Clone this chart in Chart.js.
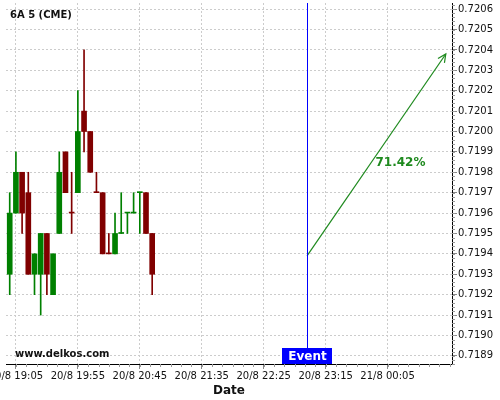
<!DOCTYPE html>
<html>
<head>
<meta charset="utf-8">
<script src="https://cdn.jsdelivr.net/npm/chart.js@4/dist/chart.umd.min.js"></script>
<style>
  html, body { margin: 0; background: #fff; }
  #wrap { width: 500px; height: 400px; }
</style>
</head>
<body>
<div id="wrap"><canvas id="chart" width="500" height="400"></canvas></div>
<script>
// 5-minute candles, 20/8
const times  = ['19:00','19:05','19:10','19:15','19:20','19:25','19:30','19:35','19:40','19:45','19:50','19:55',
                '20:00','20:05','20:10','20:15','20:20','20:25','20:30','20:35','20:40','20:45','20:50','20:55'];
const opens  = [0.7193,0.7196,0.7198,0.7197,0.7193,0.7193,0.7195,0.7192,0.7195,0.7199,0.7196,0.7197,
                0.7201,0.7200,0.7197,0.7197,0.7194,0.7194,0.7195,0.7196,0.7196,0.7197,0.7197,0.7195];
const highs  = [0.7197,0.7199,0.7198,0.7198,0.7194,0.7195,0.7195,0.7194,0.7199,0.7199,0.7198,0.7202,
                0.7204,0.7200,0.7198,0.7197,0.7195,0.7196,0.7197,0.7196,0.7197,0.7197,0.7197,0.7195];
const lows   = [0.7192,0.7196,0.7195,0.7193,0.7192,0.7191,0.7192,0.7192,0.7195,0.7197,0.7195,0.7197,
                0.7199,0.7198,0.7197,0.7194,0.7194,0.7194,0.7195,0.7195,0.7196,0.7195,0.7195,0.7192];
const closes = [0.7196,0.7198,0.7196,0.7193,0.7194,0.7195,0.7193,0.7194,0.7198,0.7197,0.7196,0.7200,
                0.7200,0.7198,0.7197,0.7194,0.7194,0.7195,0.7195,0.7196,0.7196,0.7197,0.7195,0.7193];
// dojis drawn green in the source (the rest are red)
const greenDojis = ['20:30','20:35','20:40','20:45'];

const xTickTimes = ['19:05','19:55','20:45','21:35','22:25','23:15','00:05'];
const yTicks = [0.7189,0.7190,0.7191,0.7192,0.7193,0.7194,0.7195,0.7196,0.7197,0.7198,
                0.7199,0.7200,0.7201,0.7202,0.7203,0.7204,0.7205,0.7206];

const eventTime   = '23:00';
const arrowFrom   = 0.71939;
const arrowToTime = '00:52';
const arrowTo     = 0.72038;
const arrowLabel  = '71.42%';

const UP = '#008000', DOWN = '#800000', ARROW = '#1f8a1f';
const FONT = '"DejaVu Sans", sans-serif';

// minutes since 20/8 00:00 (times before noon belong to 21/8)
function toMin(t) {
  const [h, m] = t.split(':').map(Number);
  return (h < 12 ? 1440 : 0) + h * 60 + m;
}
function fmtMin(v) {
  const day = v >= 1440 ? 21 : 20;
  const mm = v % 1440;
  const h = Math.floor(mm / 60), m = mm % 60;
  return `${day}/8 ${String(h).padStart(2, '0')}:${String(m).padStart(2, '0')}`;
}

const colors = times.map((t, i) =>
  closes[i] > opens[i] || (closes[i] === opens[i] && greenDojis.includes(t)) ? UP : DOWN);

const decor = {
  id: 'decor',
  afterDatasetsDraw(chart) {
    const { ctx, chartArea: a, scales: { x, y } } = chart;
    ctx.save();

    // minor ticks on both axes
    ctx.fillStyle = '#999';
    for (let v = yTicks[0] - 0.0001; v <= yTicks[yTicks.length - 1] + 0.0001; v += 0.00002) {
      const py = y.getPixelForValue(v);
      if (py < a.top || py > a.bottom) continue;
      ctx.fillRect(a.right, Math.round(py), 3, 1);
    }
    for (let v = toMin(xTickTimes[0]) - 50; v <= x.max; v += 50 / 6) {
      const px = x.getPixelForValue(v);
      if (px < a.left || px > a.right) continue;
      ctx.fillRect(Math.round(px), a.bottom, 1, 3);
    }

    // event line and label
    const ex = Math.round(x.getPixelForValue(toMin(eventTime)));
    ctx.fillStyle = '#0000ff';
    ctx.fillRect(ex, a.top, 1, a.bottom - a.top);
    ctx.fillRect(ex - 25, a.bottom - 16, 50, 16);
    ctx.fillStyle = '#fff';
    ctx.font = `bold 12px ${FONT}`;
    ctx.textAlign = 'center';
    ctx.textBaseline = 'middle';
    ctx.fillText('Event', ex + 0.5, a.bottom - 7);

    // arrow head
    const pts = chart.getDatasetMeta(2).data;
    const p0 = pts[0], p1 = pts[1];
    const ang = Math.atan2(p1.y - p0.y, p1.x - p0.x);
    const len = 9, spread = 0.45;
    ctx.strokeStyle = ARROW;
    ctx.lineWidth = 1.2;
    ctx.beginPath();
    ctx.moveTo(p1.x - len * Math.cos(ang - spread), p1.y - len * Math.sin(ang - spread));
    ctx.lineTo(p1.x, p1.y);
    ctx.lineTo(p1.x - len * Math.cos(ang + spread), p1.y - len * Math.sin(ang + spread));
    ctx.stroke();

    // probability text next to arrow
    ctx.fillStyle = ARROW;
    ctx.textAlign = 'left';
    ctx.fillText(arrowLabel, (p0.x + p1.x) / 2 - 1, (p0.y + p1.y) / 2 + 8);

    // corner texts
    ctx.fillStyle = '#111';
    ctx.font = `bold 10px ${FONT}`;
    ctx.fillText('6A 5 (CME)', a.left + 4, a.top + 12);
    ctx.fillText('www.delkos.com', a.left + 9, a.bottom - 10);
    ctx.restore();
  }
};

new Chart(document.getElementById('chart'), {
  type: 'bar',
  data: {
    datasets: [
      {
        label: 'wick',
        data: times.map((t, i) => ({ x: toMin(t), y: [lows[i], highs[i]] })),
        backgroundColor: colors,
        barThickness: 1,
        minBarLength: 1,
        grouped: false,
        order: 2,
      },
      {
        label: 'body',
        data: times.map((t, i) => ({ x: toMin(t), y: [opens[i], closes[i]] })),
        backgroundColor: colors,
        barThickness: 5,
        minBarLength: 1,
        grouped: false,
        order: 1,
      },
      {
        type: 'line',
        label: 'arrow',
        data: [{ x: toMin(eventTime), y: arrowFrom }, { x: toMin(arrowToTime), y: arrowTo }],
        borderColor: ARROW,
        borderWidth: 1.2,
        pointRadius: 0,
        tension: 0,
        order: 0,
      },
    ],
  },
  options: {
    responsive: false,
    animation: false,
    layout: { padding: { left: 6, top: 3, right: 0, bottom: 0 } },
    plugins: { legend: { display: false }, tooltip: { enabled: false } },
    scales: {
      x: {
        type: 'linear',
        offset: false,
        min: 1137,
        max: 1497,
        afterBuildTicks: (s) => { s.ticks = xTickTimes.map(t => ({ value: toMin(t) })); },
        afterFit: (s) => { s.height = 36; s.paddingLeft = 0; s.paddingRight = 0; },
        ticks: {
          autoSkip: false, maxRotation: 0, padding: 1,
          color: '#111', font: { family: FONT, size: 10 },
          callback: (v) => fmtMin(v),
        },
        grid: { offset: false, color: '#cccccc', tickColor: '#888', tickLength: 5, tickBorderDash: [] },
        border: { display: true, color: '#000', width: 1, dash: [2, 2] },
        title: {
          display: true, text: 'Date', color: '#111',
          font: { family: FONT, size: 12, weight: 'bold' },
          padding: { top: 0, bottom: 2 },
        },
      },
      y: {
        type: 'linear',
        position: 'right',
        beginAtZero: false,
        min: 0.71886,
        max: 0.72063,
        afterBuildTicks: (s) => { s.ticks = yTicks.map(v => ({ value: v })); },
        afterFit: (s) => { s.width = 48; s.paddingTop = 0; s.paddingBottom = 0; },
        ticks: {
          padding: 1, color: '#111', font: { family: FONT, size: 10 },
          callback: (v) => v.toFixed(4),
        },
        grid: { color: '#cccccc', tickColor: '#888', tickLength: 5, tickBorderDash: [] },
        border: { display: true, color: '#000', width: 1, dash: [2, 2] },
      },
    },
  },
  plugins: [decor],
});
</script>
</body>
</html>
